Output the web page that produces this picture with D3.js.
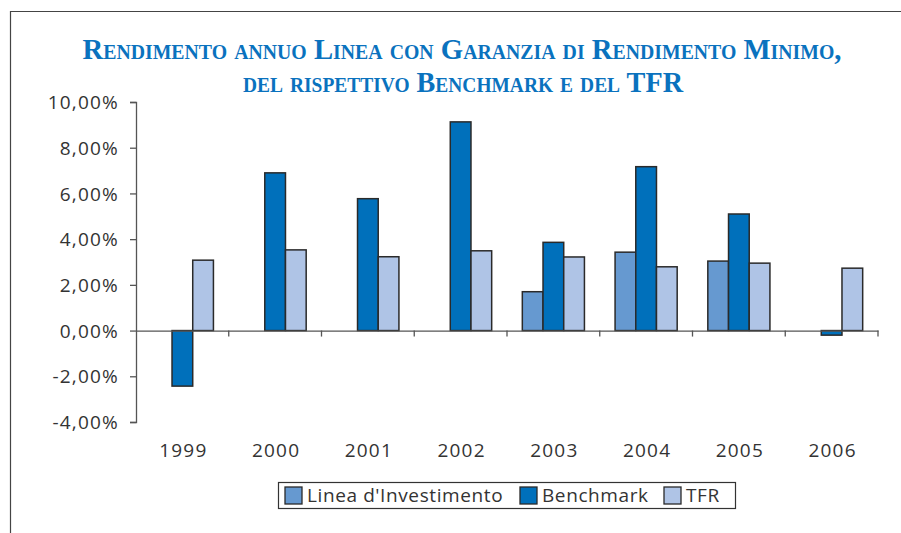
<!DOCTYPE html>
<html><head><meta charset="utf-8">
<script src="https://cdn.jsdelivr.net/npm/d3@7"></script>
<style>
html,body{margin:0;padding:0;background:#fff;}
svg{display:block;}
</style></head>
<body>
<script>
const categories = ["1999","2000","2001","2002","2003","2004","2005","2006"];
const seriesNames = ["Linea d'Investimento","Benchmark","TFR"];
const linea = [null, null, null, null, 1.70, 3.43, 3.04, null];
const benchmark = [-2.43, 6.90, 5.77, 9.13, 3.86, 7.17, 5.10, -0.20];
const tfr = [3.08, 3.53, 3.23, 3.49, 3.22, 2.79, 2.95, 2.73];
const yTicks = [-4, -2, 0, 2, 4, 6, 8, 10];
const titleLines = ["Rendimento annuo Linea con Garanzia di Rendimento Minimo,", "del rispettivo Benchmark e del TFR"];

const colors = ["#6699D0", "#0070BB", "#AFC4E6"];
const W = 901, H = 533;
const svg = d3.select("body").append("svg").attr("width", W).attr("height", H);

// frame
svg.append("path").attr("d", `M10.5,${H} L10.5,11.5 L${W},11.5`).attr("fill","none").attr("stroke","#444").attr("stroke-width",1.2);

// title
const title = svg.append("g").attr("font-family","'Liberation Serif','DejaVu Serif',serif").attr("font-weight","bold")
  .attr("fill","#0A72BE").attr("font-variant","small-caps").attr("text-anchor","middle");
title.append("text").attr("x",462).attr("y",59).attr("font-size",29).attr("textLength",759).attr("lengthAdjust","spacingAndGlyphs").text(titleLines[0]);
title.append("text").attr("x",463).attr("y",92).attr("font-size",29).attr("textLength",440).attr("lengthAdjust","spacingAndGlyphs").text(titleLines[1]);

const x0 = d3.scaleBand().domain(categories).range([136, 878]).paddingInner(0).paddingOuter(0);
const y = d3.scaleLinear().domain([-4, 10]).range([422, 102]);
const x1 = d3.scaleBand().domain(seriesNames).range([0, x0.bandwidth()]).paddingOuter(0.74).paddingInner(0);

const fontFam = "'Open Sans','Noto Sans',sans-serif";

// y axis
const yAxis = svg.append("g").attr("transform","translate(136,0)")
  .call(d3.axisLeft(y).tickValues(yTicks).tickSize(6).tickPadding(11).tickFormat(d => d3.format(".2f")(d).replace(".", ",").replace("\u2212", "-") + "%"));
yAxis.select(".domain").attr("stroke","#555").attr("stroke-width",1.3);
yAxis.selectAll(".tick line").attr("stroke","#555").attr("stroke-width",1.3);
yAxis.selectAll("text").attr("font-family",fontFam).attr("font-size",19).attr("letter-spacing","1.2px").attr("fill","#333").attr("dy","0.35em");

// bars
const data = [linea, benchmark, tfr];
const g = svg.append("g");
categories.forEach((c, i) => {
  seriesNames.forEach((s, j) => {
    const v = data[j][i];
    if (v === null) return;
    g.append("rect")
      .attr("x", x0(c) + x1(s))
      .attr("y", y(Math.max(0, v)))
      .attr("width", x1.bandwidth())
      .attr("height", Math.abs(y(v) - y(0)))
      .attr("fill", colors[j])
      .attr("stroke", "#2a2a2a").attr("stroke-width", 1.5);
  });
});

// x axis at zero
const xAxis = svg.append("g").attr("transform",`translate(0,${y(0)})`)
  .call(d3.axisBottom(x0).tickSize(0).tickFormat(""));
xAxis.select(".domain").attr("stroke","#555").attr("stroke-width",1.3);
// boundary ticks
const bounds = categories.map(c => x0(c) + x0.bandwidth());
svg.append("g").selectAll("line").data(bounds).join("line")
  .attr("x1", d => d).attr("x2", d => d).attr("y1", y(0)).attr("y2", y(0) + 6)
  .attr("stroke","#555").attr("stroke-width",1.3);
// category labels
svg.append("g").selectAll("text").data(categories).join("text")
  .attr("x", d => x0(d) + x0.bandwidth()/2 + 1).attr("y", 457)
  .attr("text-anchor","middle").attr("font-family",fontFam).attr("font-size",19).attr("letter-spacing","1.2px").attr("fill","#333")
  .text(d => d);

// legend
const lg = svg.append("g");
lg.append("rect").attr("x",278.5).attr("y",482.5).attr("width",457).attr("height",26).attr("fill","#fff").attr("stroke","#333").attr("stroke-width",1.2);
const legX = [285, 520, 664];
seriesNames.forEach((s, j) => {
  lg.append("rect").attr("x", legX[j]).attr("y", 487).attr("width", 17).attr("height", 17)
    .attr("fill", colors[j]).attr("stroke","#2a2a2a").attr("stroke-width",1.3);
  lg.append("text").attr("x", legX[j] + 22).attr("y", 502).attr("font-family",fontFam).attr("font-size",19).attr("letter-spacing","0.6px").attr("fill","#333").text(s);
});
</script>
</body></html>
